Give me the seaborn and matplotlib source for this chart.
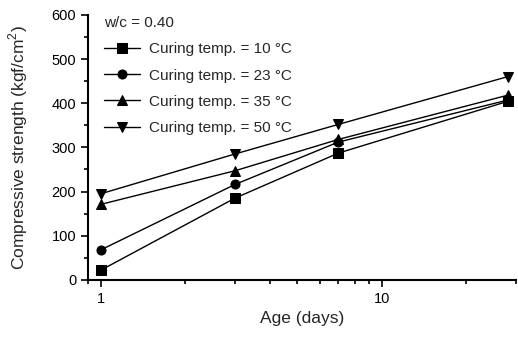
import matplotlib
matplotlib.use("Agg")
import matplotlib.pyplot as plt
import matplotlib.ticker as mticker
import seaborn as sns
import pandas as pd

ages = [1, 3, 7, 28]
temps = ["10", "23", "35", "50"]
s10 = [22, 185, 287, 404]
s23 = [68, 216, 312, 407]
s35 = [171, 247, 318, 418]
s50 = [195, 285, 352, 460]

rows = []
for t, vals in zip(temps, [s10, s23, s35, s50]):
    for a, v in zip(ages, vals):
        rows.append({"age": a, "strength": v, "temp": "Curing temp. = %s \u00b0C" % t})
df = pd.DataFrame(rows)

sns.set_style("ticks")
plt.rcParams["font.family"] = ["Liberation Sans", "DejaVu Sans"]
plt.rcParams["mathtext.fontset"] = "custom"
plt.rcParams["mathtext.rm"] = "Liberation Sans"

fig = plt.figure(figsize=(5.18, 3.38), dpi=100)
ax = fig.add_axes([0.17, 0.172, 0.826, 0.784])

sns.lineplot(data=df, x="age", y="strength", style="temp", markers=["s", "o", "^", "v"],
             dashes=False, color="black", linewidth=1.0, markersize=6.5,
             markeredgecolor="black", ax=ax)

ax.set_xscale("log")
ax.set_xlim(0.9, 30)
ax.set_ylim(0, 600)
ax.set_xticks([1, 10])
ax.xaxis.set_major_formatter(mticker.FormatStrFormatter("%d"))
ax.xaxis.set_minor_locator(mticker.LogLocator(subs=range(2, 10)))
ax.xaxis.set_minor_formatter(mticker.NullFormatter())
ax.set_yticks(range(0, 601, 100))
ax.yaxis.set_minor_locator(mticker.MultipleLocator(50))
ax.tick_params(which="both", direction="out", colors="black", labelsize=10.5, width=1.2)
ax.tick_params(which="major", length=5)
ax.tick_params(which="minor", length=3)
for s in ["left", "bottom"]:
    ax.spines[s].set_linewidth(1.5)
    ax.spines[s].set_color("black")
sns.despine(ax=ax)

ax.set_xlabel("Age (days)", fontsize=12.5)
ax.set_ylabel("Compressive strength (kgf/cm$^2$)", fontsize=12.5)
ax.yaxis.set_label_coords(-0.135, 0.5)

handles, labels = ax.get_legend_handles_labels()
leg = ax.legend(handles, labels, title="w/c = 0.40", loc="upper left", frameon=False,
                fontsize=11, title_fontsize=11, labelspacing=0.8, handlelength=2.4,
                handletextpad=0.6, borderaxespad=0.2, bbox_to_anchor=(0.015, 1.03))
leg._legend_box.align = "left"

fig.savefig("out.png", dpi=100)
